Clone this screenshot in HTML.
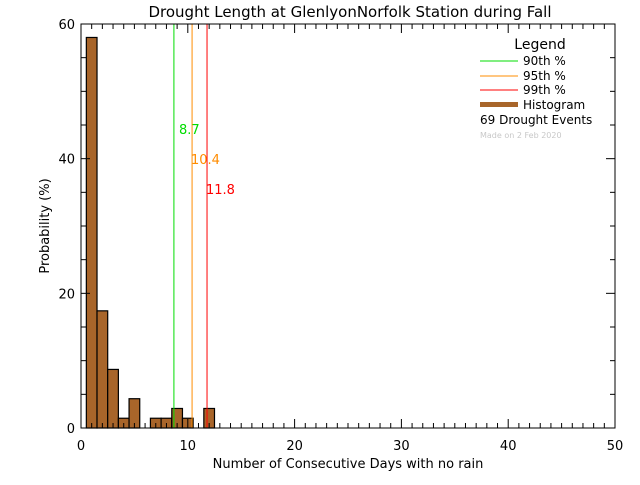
<!DOCTYPE html>
<html><head><meta charset="utf-8"><style>
body{margin:0;background:#fff;}
svg text{font-family:"DejaVu Sans","Liberation Sans",sans-serif;}
</style></head><body>
<svg id="c" width="640" height="480" xmlns="http://www.w3.org/2000/svg">
<rect width="640" height="480" fill="#fff"/>
<text x="350" y="17" font-size="15" text-anchor="middle">Drought Length at GlenlyonNorfolk Station during Fall</text>
<g id="bars"></g>
<g id="lines"></g>
<g id="axes"></g>
<text x="348" y="468" font-size="13" text-anchor="middle">Number of Consecutive Days with no rain</text>
<text transform="translate(49,226) rotate(-90)" font-size="13" text-anchor="middle">Probability (%)</text>
<g>
<text x="540" y="49" font-size="14" text-anchor="middle">Legend</text>
<line x1="480" y1="61" x2="518" y2="61" stroke="#00dd00"/>
<text x="523" y="65" font-size="12">90th %</text>
<line x1="480" y1="76" x2="518" y2="76" stroke="#ff8c00"/>
<text x="523" y="80" font-size="12">95th %</text>
<line x1="480" y1="90" x2="518" y2="90" stroke="#ff0000"/>
<text x="523" y="94" font-size="12">99th %</text>
<rect x="480" y="102" width="38" height="5" fill="#a8652a"/>
<text x="523" y="109" font-size="12">Histogram</text>
<text x="480" y="124" font-size="12">69  Drought Events</text>
<text x="480" y="138" font-size="8" fill="#c8c8c8">Made on 2 Feb 2020</text>
</g>
</svg>
<script>
const binStarts=[0.5,1.5,2.5,3.5,4.5,5.5,6.5,7.5,8.5,9.5,10.5,11.5];
const probs=[58.0,17.4,8.7,1.45,4.35,0,1.45,1.45,2.9,1.45,0,2.9];
const pctValues=[8.7,10.4,11.8];
const pctLabels=["8.7","10.4","11.8"];
const xTicks=[0,10,20,30,40,50];
const yTicks=[0,20,40,60];
const L=81,R=615,T=24,B=428;
const xs=v=>L+(v/50)*(R-L);
const ys=v=>B-(v/60)*(B-T);
const NS="http://www.w3.org/2000/svg";
function mk(tag,attrs,parent,txt){const e=document.createElementNS(NS,tag);for(const k in attrs)e.setAttribute(k,attrs[k]);if(txt!==undefined)e.textContent=txt;parent.appendChild(e);return e;}
const bars=document.getElementById('bars');
binStarts.forEach((s,i)=>{if(probs[i]<=0)return;
const r=mk('rect',{x:xs(s),y:ys(probs[i]),width:xs(s+1)-xs(s),height:B-ys(probs[i]),fill:'#a8652a',stroke:'#000','stroke-width':1.2},bars);

});
const lines=document.getElementById('lines');
const cols=['#00dd00','#ff8c00','#ff0000'];const ly=[134,164,194];const lx=[179,191,206];
pctValues.forEach((v,i)=>{
const l=mk('line',{x1:xs(v),y1:T,x2:xs(v),y2:B,stroke:cols[i]},lines);


const t=mk('text',{x:lx[i],y:ly[i],'font-size':13,fill:cols[i]},lines,pctLabels[i]);

});
const ax=document.getElementById('axes');
mk('rect',{x:L,y:T,width:R-L,height:B-T,fill:'none',stroke:'#000'},ax);
for(let v=0;v<=50;v++){const x=xs(v);const len=v%10===0?9:5;
mk('line',{x1:x,y1:B,x2:x,y2:B-len,stroke:'#000'},ax);mk('line',{x1:x,y1:T,x2:x,y2:T+len,stroke:'#000'},ax);}
for(let v=0;v<=60;v+=5){const y=ys(v);const len=v%20===0?9:5;
mk('line',{x1:L,y1:y,x2:L+len,y2:y,stroke:'#000'},ax);mk('line',{x1:R,y1:y,x2:R-len,y2:y,stroke:'#000'},ax);}
xTicks.forEach(v=>{const t=mk('text',{x:xs(v),y:450,'font-size':13,'text-anchor':'middle'},ax,String(v));

});
yTicks.forEach(v=>{const t=mk('text',{x:L-6,y:ys(v)+5,'font-size':13,'text-anchor':'end'},ax,String(v));

});
</script>
</body></html>
